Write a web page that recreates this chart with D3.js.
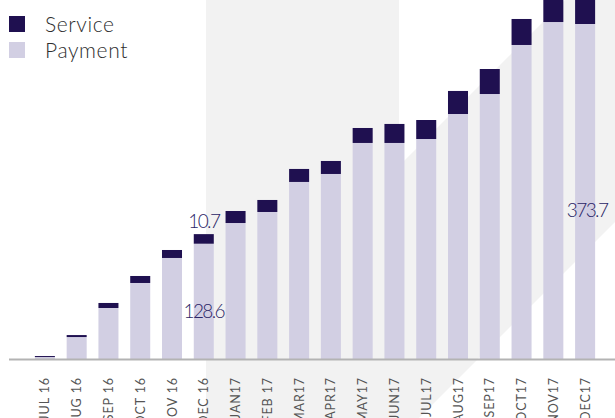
<!DOCTYPE html>
<html>
<head>
<meta charset="utf-8">
<script src="https://cdn.jsdelivr.net/npm/d3@7"></script>
<style>
    body { margin: 0; background: #fff; }
    svg { display: block; font-family: Lato, "Open Sans", sans-serif; }
</style>
</head>
<body>
<div class="chart"></div>
<script>
// months shown on the x axis
var months = ['JUL 16', 'AUG 16', 'SEP 16', 'OCT 16', 'NOV 16', 'DEC 16',
    'JAN17', 'FEB 17', 'MAR17', 'APR17', 'MAY17', 'JUN17',
    'JUL17', 'AUG17', 'SEP17', 'OCT17', 'NOV17', 'DEC17'];

// series values
var payment = [2.2, 24.5, 56.9, 84.8, 112.7, 128.6, 151.7, 164.0, 197.5, 206.4,
    241.0, 241.0, 245.4, 273.3, 295.6, 350.3, 375.9, 373.7];
var service = [1.1, 2.2, 5.6, 7.8, 8.9, 10.7, 13.4, 13.4, 14.5, 14.5,
    16.7, 21.2, 21.2, 25.7, 27.9, 29.0, 30.0, 31.0];

var seriesNames = ['Payment', 'Service'];
var legendNames = ['Service', 'Payment'];

var width = 615;
var height = 418;
var colors = { Service: '#1f1050', Payment: '#d2cfe3' };

var svg = d3.select('.chart')
    .append('svg')
    .attr('width', width)
    .attr('height', height);

/**
 * Background shape
 */
svg.append('path')
    .attr('d', 'M206,0 L399,0 L399,166 L565,0 L615,0 L615,222 L419,418 L206,418 Z')
    .style('fill', '#f2f2f2');

var table = months.map((m, i) => ({ month: m, Payment: payment[i], Service: service[i] }));
var stacked = d3.stack().keys(seriesNames)(table);

var xScale = d3.scaleBand()
    .domain(months)
    .range([29, 601])
    .paddingInner(0.37)
    .paddingOuter(0.185);

var yScale = d3.scaleLinear()
    .domain([0, 373.7])
    .range([359, 24]);

// bars
svg.selectAll('.series')
    .data(stacked)
    .enter()
    .append('g')
    .attr('class', 'series')
    .style('fill', d => colors[d.key])
    .selectAll('rect')
    .data(d => d)
    .enter()
    .append('rect')
    .attr('x', d => xScale(d.data.month))
    .attr('width', xScale.bandwidth())
    .attr('y', d => yScale(d[1]))
    .attr('height', d => yScale(d[0]) - yScale(d[1]));

// baseline
svg.append('line')
    .attr('x1', 9)
    .attr('x2', width)
    .attr('y1', 359.5)
    .attr('y2', 359.5)
    .style('stroke', '#b3b3b3')
    .style('stroke-width', 2);

// x labels
svg.selectAll('.xlabel')
    .data(months)
    .enter()
    .append('text')
    .attr('class', 'xlabel')
    .attr('transform', d => `translate(${xScale(d) + xScale.bandwidth() / 2}, 377) rotate(-90)`)
    .attr('dy', '0.36em')
    .style('text-anchor', 'end')
    .style('font-size', '12.5px')
    .style('letter-spacing', '0.9px')
    .style('fill', '#555')
    .text(d => d);

// value annotations
function cx(m) { return xScale(m) + xScale.bandwidth() / 2; }
var iDec16 = months.indexOf('DEC 16');
var iDec17 = months.indexOf('DEC17');
var notes = [
    { x: cx('DEC 16'), y: yScale(payment[iDec16] + service[iDec16]) - 6, t: service[iDec16].toFixed(1) },
    { x: cx('DEC 16'), y: yScale(payment[iDec16]) + 74, t: payment[iDec16].toFixed(1) },
    { x: cx('DEC17') + 2, y: yScale(payment[iDec17]) + 193, t: payment[iDec17].toFixed(1) }
];
svg.selectAll('.note')
    .data(notes)
    .enter()
    .append('text')
    .attr('class', 'note')
    .attr('x', d => d.x)
    .attr('y', d => d.y)
    .style('text-anchor', 'middle')
    .style('font-size', '19px')
    .style('font-weight', 300)
    .style('letter-spacing', '-1.6px')
    .style('fill', '#2a2566')
    .text(d => d.t);

// legend
var legend = svg.selectAll('.legend')
    .data(legendNames)
    .enter()
    .append('g')
    .attr('class', 'legend')
    .attr('transform', (d, i) => `translate(9, ${16 + i * 26})`);

legend.append('rect')
    .attr('width', 16)
    .attr('height', 16)
    .style('fill', d => colors[d]);

legend.append('text')
    .attr('x', 36)
    .attr('y', 15.5)
    .style('font-size', '21px')
    .style('font-weight', 300)
    .style('letter-spacing', '0.6px')
    .style('fill', '#2e2e2e')
    .text(d => d);
</script>
</body>
</html>
